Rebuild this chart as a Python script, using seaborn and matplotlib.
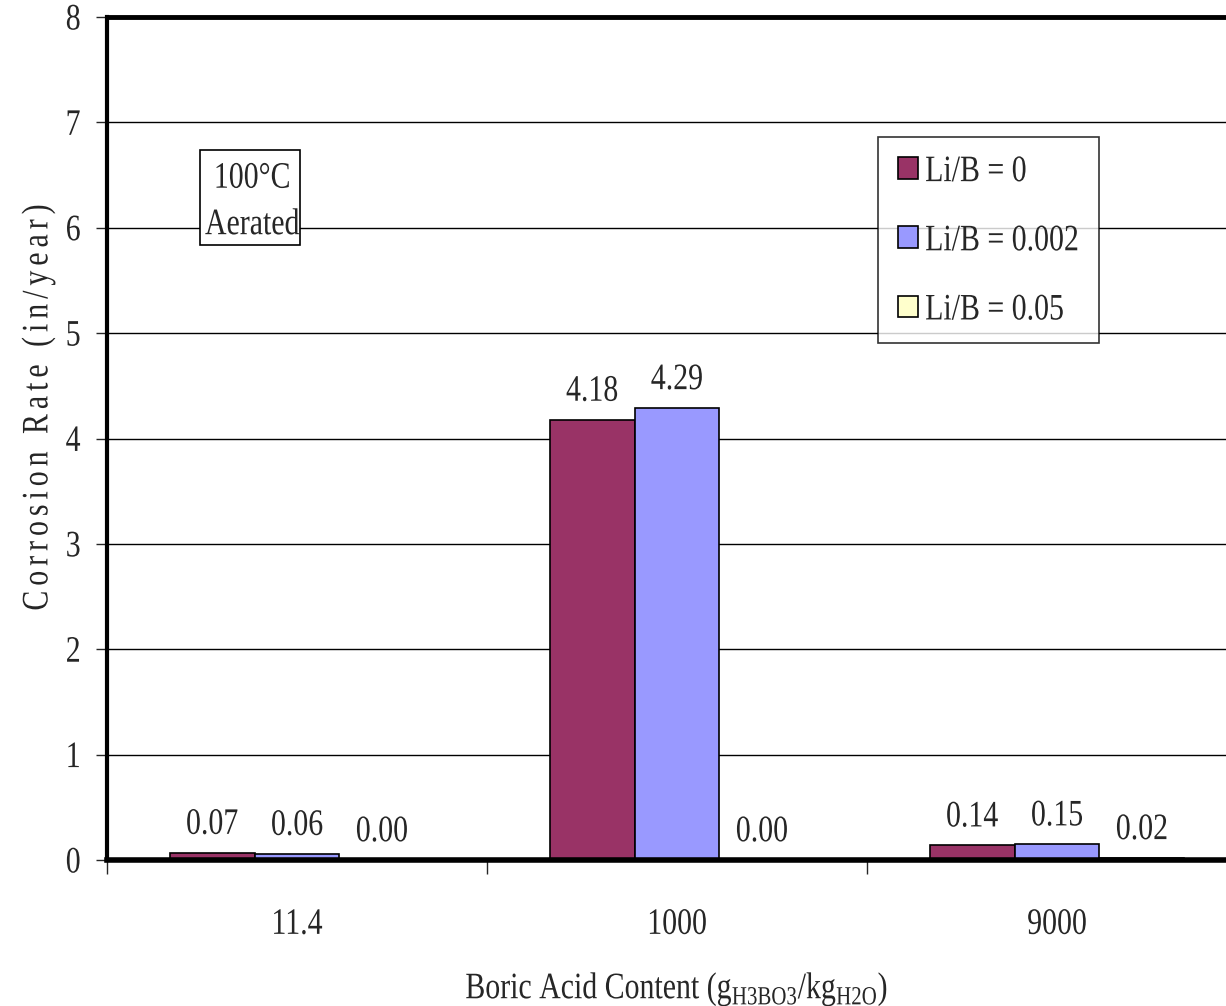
import matplotlib
matplotlib.use("Agg")
import matplotlib.pyplot as plt
import matplotlib.text as mtext
import seaborn as sns
import pandas as pd
from matplotlib.patches import Patch, Rectangle
from matplotlib.patheffects import AbstractPathEffect
from matplotlib.transforms import Affine2D

categories = ["11.4", "1000", "9000"]
series_names = ["Li/B = 0", "Li/B = 0.002", "Li/B = 0.05"]
vals_0 = [0.07, 4.18, 0.14]
vals_002 = [0.06, 4.29, 0.15]
vals_005 = [0.00, 0.00, 0.02]
colors = ["#993366", "#9999FF", "#FFFFCC"]

rows = []
for s, vals in zip(series_names, [vals_0, vals_002, vals_005]):
    for c, v in zip(categories, vals):
        rows.append({"cat": c, "series": s, "value": v})
df = pd.DataFrame(rows)


class Stretch(AbstractPathEffect):
    """Vertically stretch glyphs (reference uses a tall, condensed serif)."""
    def __init__(self, sy=1.25):
        super().__init__()
        self.sy = sy

    def draw_path(self, renderer, gc, tpath, affine, rgbFace=None):
        v = tpath.vertices
        c = 0.5 * max(float(v[:, 1].max()), 0.0) if len(v) else 0.0
        tr = Affine2D().translate(0, -c).scale(1, self.sy).translate(0, c)
        renderer.draw_path(gc, tpath, tr + affine, rgbFace)


sns.set_style("white")
plt.rcParams["font.family"] = ["Liberation Serif", "DejaVu Serif"]
plt.rcParams["mathtext.fontset"] = "custom"
plt.rcParams["mathtext.rm"] = "Liberation Serif"
FS = 21.5

fig = plt.figure(figsize=(12.26, 10.06), dpi=100)
ax = fig.add_axes([107/1226, 146/1006, 1140/1226, 843/1006])

sns.barplot(data=df, x="cat", y="value", hue="series", order=categories,
            hue_order=series_names, palette=colors, width=0.67,
            edgecolor="black", linewidth=1.2, errorbar=None, ax=ax,
            legend=False, saturation=1)

for cont in ax.containers:
    ax.bar_label(cont, fmt="%.2f", padding=11, fontsize=FS)

ax.set_ylim(0, 8)
ax.set_xlim(-0.5, 2.5)
ax.set_yticks(range(0, 9))
ax.yaxis.grid(True, color="black", linewidth=1)
ax.set_axisbelow(True)
ax.tick_params(axis="y", labelsize=FS, length=8, width=1, direction="out", pad=11, left=True)
ax.tick_params(axis="x", which="major", labelsize=FS, length=0, pad=37)
ax.set_xticks([-0.5, 0.5, 1.5, 2.5], minor=True)
ax.tick_params(axis="x", which="minor", length=10, width=1, direction="out", bottom=True)

for side in ["left", "top", "bottom"]:
    ax.spines[side].set_visible(True)
    ax.spines[side].set_color("black")
ax.spines["left"].set_linewidth(3)
ax.spines["top"].set_linewidth(3.5)
ax.spines["bottom"].set_linewidth(4)
ax.spines["right"].set_visible(False)

ylab = "\u2006".join("Corrosion Rate (in/year)")
ax.set_ylabel(ylab, fontsize=FS)
ax.yaxis.set_label_coords(-0.049, (860 - 407) / 843)
ax.set_xlabel(r"Boric Acid Content (g$_{\mathrm{H3BO3}}$/kg$_{\mathrm{H2O}}$)",
              fontsize=FS, labelpad=26)

# annotation box
ax.add_patch(Rectangle((93/1140, (860-245)/843), 100/1140, 95/843, transform=ax.transAxes,
                       facecolor="white", edgecolor="black", linewidth=1.2, zorder=5,
                       clip_on=False))
ax.text(-0.118, 6.47, "100°C", fontsize=FS, ha="center", va="center", zorder=6)
ax.text(-0.118, 6.03, "Aerated", fontsize=FS, ha="center", va="center", zorder=6)

handles = [Patch(facecolor=c, edgecolor="black", linewidth=1.2) for c in colors]
leg = ax.legend(handles, series_names, loc="upper left",
                bbox_to_anchor=((878-107)/1140, (860-137)/843),
                fontsize=FS, frameon=True, fancybox=False, edgecolor="black",
                handlelength=0.65, handleheight=0.75, handletextpad=0.25,
                labelspacing=1.4, borderpad=0.68, borderaxespad=0)
leg.get_frame().set_linewidth(1.2)

fig.canvas.draw()
for t in fig.findobj(mtext.Text):
    if t.get_text():
        t.set_path_effects([Stretch(1.25)])

fig.savefig("out.png", dpi=100)
